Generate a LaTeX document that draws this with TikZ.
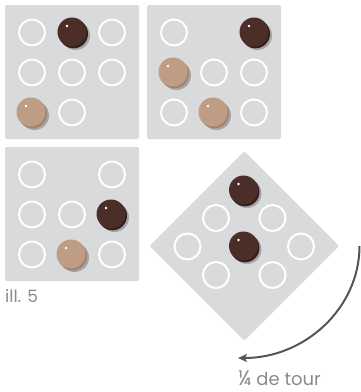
\documentclass[tikz,border=0pt]{standalone}
\usepackage{fontspec}
\setmainfont{Poppins}
\usetikzlibrary{arrows.meta}
\definecolor{boardc}{HTML}{D9DADB}
\definecolor{shadowc}{HTML}{A3A5A8}
\definecolor{darkface}{HTML}{4A2E27}
\definecolor{darkrim}{HTML}{33201B}
\definecolor{lightface}{HTML}{BF9C84}
\definecolor{lightrim}{HTML}{A2826D}
\definecolor{textc}{HTML}{8A8A8A}
\definecolor{arrowc}{HTML}{555555}
\tikzset{
  board/.style={fill=boardc, rounded corners=2pt},
  hole/.pic={\draw[white, line width=2pt] (0,0) circle (13);},
  darkpiece/.pic={
    \fill[shadowc] (3.5,3.5) circle (14.5);
    \fill[darkrim] (1.5,1.8) circle (14.5);
    \fill[darkface] (0,0) circle (14.5);
    \fill[white] (-5,-6) circle (1.3);},
  lightpiece/.pic={
    \fill[shadowc] (3.5,3.5) circle (14.5);
    \fill[lightrim] (1.5,1.8) circle (14.5);
    \fill[lightface] (0,0) circle (14.5);
    \fill[white] (-5,-6) circle (1.3);},
  caption/.style={text=textc, font=\fontsize{17}{20}\selectfont, inner sep=0pt, anchor=base west}
}
\begin{document}
\begin{tikzpicture}[x=1pt, y=-1pt]
\useasboundingbox (0,0) rectangle (361,392);
% board 1
\fill[board] (5,5) rectangle (139,139);
\pic at (32,32.5) {hole};
\pic at (72,32) {darkpiece};
\pic at (112,32.5) {hole};
\pic at (32,72.5) {hole};
\pic at (72,72.5) {hole};
\pic at (112,72.5) {hole};
\pic at (31,112) {lightpiece};
\pic at (72,112.5) {hole};
% board 2
\fill[board] (147,5) rectangle (281,139);
\pic at (174,32.5) {hole};
\pic at (254,32) {darkpiece};
\pic at (173,72) {lightpiece};
\pic at (214,72.5) {hole};
\pic at (254,72.5) {hole};
\pic at (174,112.5) {hole};
\pic at (213,112) {lightpiece};
\pic at (254,112.5) {hole};
% board 3
\fill[board] (5,147) rectangle (139,281);
\pic at (32,174.5) {hole};
\pic at (112,174.5) {hole};
\pic at (32,214.5) {hole};
\pic at (72,214.5) {hole};
\pic at (111,214) {darkpiece};
\pic at (32,254.5) {hole};
\pic at (71,254) {lightpiece};
\pic at (112,254.5) {hole};
% board 4 (rotated)
\begin{scope}[shift={(244.3,246)}, rotate=45]
\fill[board] (-67,-67) rectangle (67,67);
\end{scope}
\pic at (243.5,190) {darkpiece};
\pic at (216,218) {hole};
\pic at (272.5,218) {hole};
\pic at (187.5,246.5) {hole};
\pic at (243.5,246) {darkpiece};
\pic at (301,246.5) {hole};
\pic at (216,275) {hole};
\pic at (272.5,275) {hole};
% captions
\node[caption] (ill) at (5,302) {ill. 5};
\node[caption, font=\fontsize{18}{20}\selectfont] (tour) at (238,385.5) {{\fontsize{21}{20}\selectfont ¼} de tour};
% rotation arrow
\coordinate (arrstart) at (359.5,246);
\coordinate (arrend) at (238,358);
\draw[arrowc, line width=2pt, -{Stealth[length=9pt, width=8pt, inset=2pt]}]
  (arrstart) arc[start angle=0, end angle=90, x radius=121.5, y radius=112];
\end{tikzpicture}
\end{document}
